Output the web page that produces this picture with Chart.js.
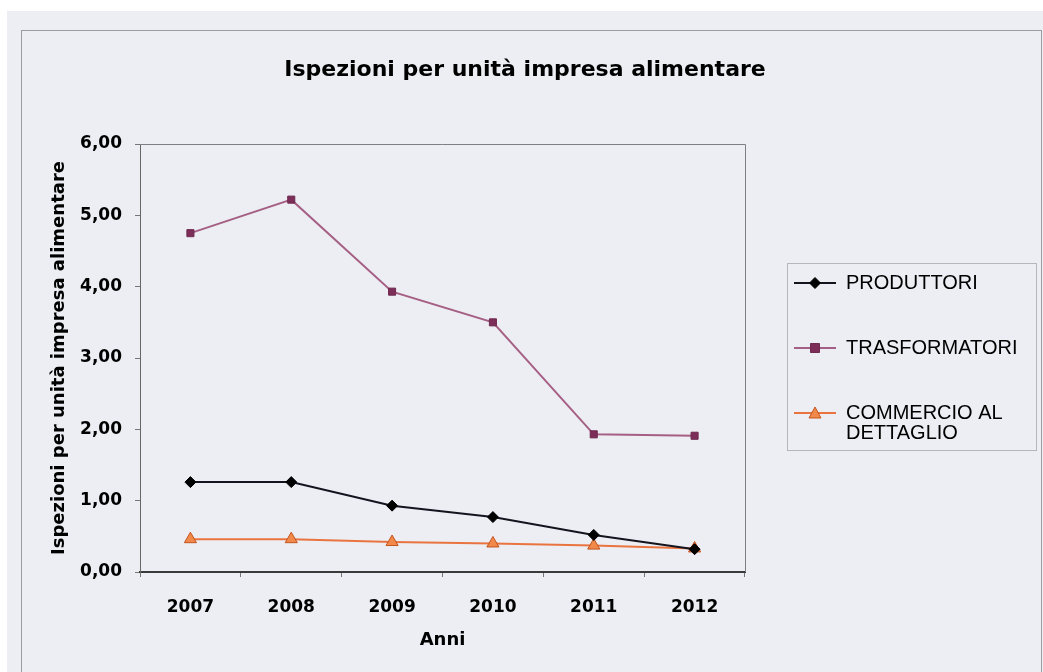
<!DOCTYPE html>
<html><head><meta charset="utf-8">
<script src="https://cdn.jsdelivr.net/npm/chart.js@4.4.0/dist/chart.umd.min.js"></script>
<style>html,body{margin:0;padding:0;background:#fff;overflow:hidden;}</style>
</head><body>
<canvas id="c" width="1043" height="672"></canvas>
<script>
// ---- data ----
const years = ['2007', '2008', '2009', '2010', '2011', '2012'];
const produttori = [1.26, 1.26, 0.93, 0.77, 0.52, 0.32];
const trasformatori = [4.75, 5.22, 3.93, 3.50, 1.93, 1.91];
const commercio = [0.46, 0.46, 0.42, 0.40, 0.37, 0.33];
const seriesNames = ['PRODUTTORI', 'TRASFORMATORI', 'COMMERCIO AL\nDETTAGLIO'];
const yTickLabels = ['0,00', '1,00', '2,00', '3,00', '4,00', '5,00', '6,00'];
const chartTitle = 'Ispezioni per unità impresa alimentare';
const yTitle = 'Ispezioni per unità impresa alimentare';
const xTitle = 'Anni';

// ---- styles ----
const styles = [
  {line: '#14141f', fill: '#000000', edge: '#000000', shape: 'rectRot', r: 5.5},
  {line: '#a65f84', fill: '#7c2d58', edge: '#6e2a4f', shape: 'rect', r: 5},
  {line: '#ea7440', fill: '#f0894a', edge: '#c4541f', shape: 'triangle', r: 7}
];
const PAGE_BG = '#eceef3';
const LEGEND_W = 284;

function legendIcon(st) {
  const c = document.createElement('canvas');
  c.width = 46; c.height = 16;
  const g = c.getContext('2d');
  g.strokeStyle = st.line; g.lineWidth = 2;
  g.beginPath(); g.moveTo(4, 8); g.lineTo(46, 8); g.stroke();
  g.fillStyle = st.fill; g.strokeStyle = st.edge; g.lineWidth = 1;
  const cx = 25, cy = 8;
  g.beginPath();
  if (st.shape === 'rectRot') {
    g.moveTo(cx, cy - 5.5); g.lineTo(cx + 5.5, cy); g.lineTo(cx, cy + 5.5); g.lineTo(cx - 5.5, cy); g.closePath();
  } else if (st.shape === 'rect') {
    g.rect(cx - 4.5, cy - 4.5, 9, 9);
  } else {
    g.moveTo(cx, cy - 6); g.lineTo(cx + 6, cy + 5); g.lineTo(cx - 6, cy + 5); g.closePath();
  }
  g.fill(); g.stroke();
  return c;
}
const legendIcons = styles.map(legendIcon);

const decor = {
  id: 'decor',
  beforeLayout(chart) {
    const lg = chart.legend;
    if (lg && !lg._wPatched) {
      const orig = lg.fit;
      lg.fit = function () { orig.call(this); this.width = LEGEND_W; };
      lg._wPatched = true;
    }
  },
  beforeDraw(chart) {
    const ctx = chart.ctx;
    ctx.save();
    ctx.fillStyle = '#ffffff';
    ctx.fillRect(0, 0, chart.width, chart.height);
    ctx.fillStyle = PAGE_BG;
    ctx.fillRect(7, 11, chart.width - 7, chart.height - 11);
    ctx.strokeStyle = '#9a9ca2';
    ctx.lineWidth = 1;
    ctx.strokeRect(21.5, 30.5, chart.width - 23, chart.height + 20);
    ctx.restore();
  },
  afterDraw(chart) {
    const ctx = chart.ctx, a = chart.chartArea, lg = chart.legend;
    ctx.save();
    ctx.strokeStyle = '#7d7f85';
    ctx.lineWidth = 1;
    ctx.beginPath();
    ctx.moveTo(a.left, Math.round(a.top) + 0.5);
    ctx.lineTo(Math.round(a.right) + 0.5, Math.round(a.top) + 0.5);
    ctx.lineTo(Math.round(a.right) + 0.5, a.bottom);
    ctx.stroke();
    // legend frame
    ctx.strokeStyle = '#b4b6bb';
    ctx.strokeRect(Math.round(lg.left + 42) + 0.5, Math.round(lg.top + 119) + 0.5, 249, 187);
    ctx.restore();
  }
};

const datasets = [produttori, trasformatori, commercio].map((vals, i) => ({
  label: seriesNames[i],
  data: vals,
  borderColor: styles[i].line,
  backgroundColor: styles[i].fill,
  pointBackgroundColor: styles[i].fill,
  pointBorderColor: styles[i].edge,
  pointBorderWidth: 1,
  pointStyle: styles[i].shape,
  pointRadius: styles[i].r,
  pointHoverRadius: styles[i].r,
  borderWidth: 2,
  tension: 0,
  fill: false
}));

new Chart(document.getElementById('c'), {
  type: 'line',
  data: {labels: years, datasets},
  plugins: [decor],
  options: {
    responsive: false,
    animation: false,
    devicePixelRatio: 1,
    layout: {padding: {left: 21, top: 30, right: 14, bottom: 0}},
    plugins: {
      tooltip: {enabled: false},
      title: {
        display: true, text: chartTitle, color: '#000',
        font: {family: 'DejaVu Sans', size: 22, weight: 'bold'},
        padding: {top: 27, bottom: 60.6}
      },
      legend: {
        position: 'right', align: 'center', fullSize: false,
        labels: {
          usePointStyle: true, pointStyleWidth: 46, padding: 45, color: '#000',
          font: {family: 'Liberation Sans', size: 20, lineHeight: 1.0},
          generateLabels(chart) {
            return chart.data.datasets.map((ds, i) => ({
              text: ds.label.split('\n'),
              fillStyle: ds.backgroundColor, strokeStyle: ds.borderColor,
              lineWidth: 0, pointStyle: legendIcons[i], hidden: false,
              datasetIndex: i, fontColor: '#000'
            }));
          }
        }
      }
    },
    scales: {
      x: {
        offset: true,
        grid: {offset: true, drawOnChartArea: false, tickLength: 5, tickColor: '#777'},
        border: {color: '#3a3a3a', width: 2},
        ticks: {color: '#000', padding: 20, font: {family: 'DejaVu Sans', size: 17, weight: 'bold'}},
        title: {display: true, text: xTitle, color: '#000', padding: {top: 0, bottom: 21},
          font: {family: 'DejaVu Sans', size: 18, weight: 'bold'}},
        afterFit(s) { s.height = 100; }
      },
      y: {
        min: 0, max: 6,
        grid: {drawOnChartArea: false, tickLength: 5, tickColor: '#777'},
        border: {color: '#666', width: 1},
        ticks: {
          stepSize: 1, color: '#000', padding: 13,
          font: {family: 'DejaVu Sans', size: 17, weight: 'bold'},
          callback: (v, i) => yTickLabels[i]
        },
        title: {display: true, text: yTitle, color: '#000', padding: {top: 28, bottom: 0},
          font: {family: 'DejaVu Sans', size: 18, weight: 'bold'}},
        afterFit(s) { s.width = 119; }
      }
    }
  }
});
</script>
</body></html>
